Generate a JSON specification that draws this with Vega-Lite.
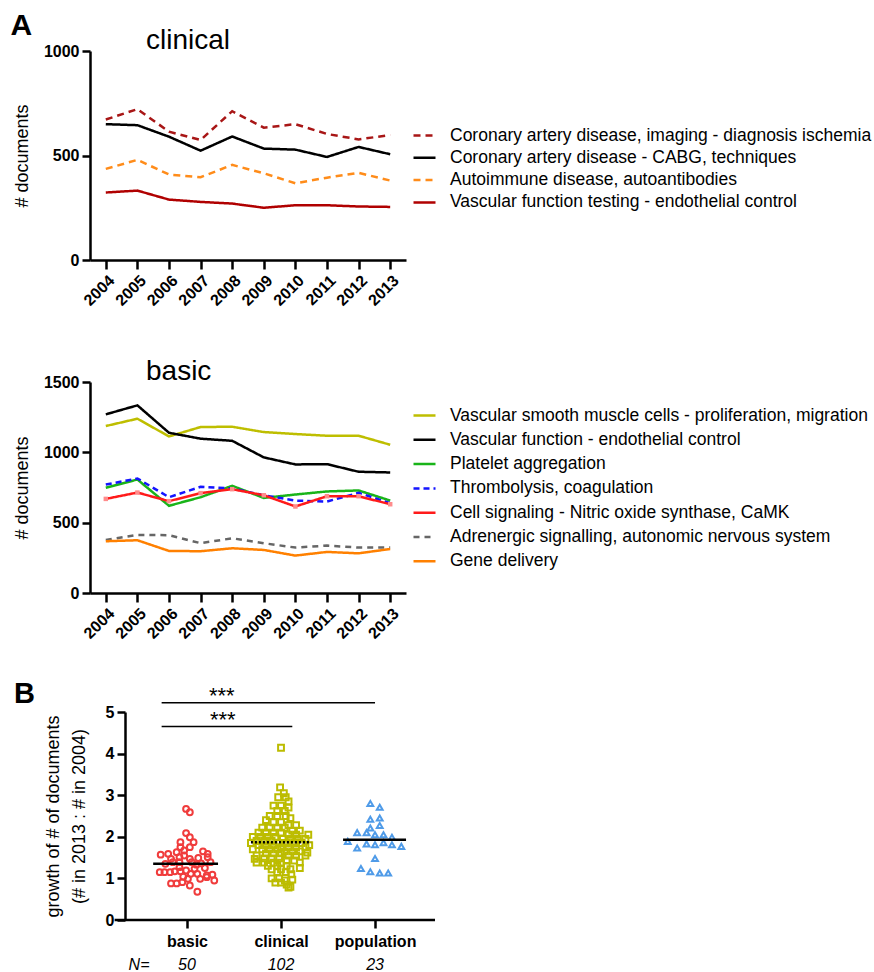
{
  "$schema": "https://vega.github.io/schema/vega-lite/v6.json",
  "padding": {"left": 10, "top": 11, "right": 0, "bottom": 0},
  "title": {"text": "A", "anchor": "start", "frame": "bounds", "fontSize": 30, "fontWeight": "bold", "offset": -14, "dx": -3, "color": "black"},
  "config": {
    "font": "Liberation Sans",
    "view": {"stroke": null},
    "axis": {"domainColor": "black", "domainWidth": 2.5, "tickColor": "black", "tickWidth": 2.5, "tickSize": 8, "labelColor": "black", "labelFont": "Liberation Sans", "labelFontWeight": "bold", "labelFontSize": 16, "titleColor": "black", "titleFont": "Liberation Sans", "titleFontWeight": "normal", "titleFontSize": 18, "grid": false, "labelPadding": 3},
    "legend": {"labelFontSize": 17.5, "labelFont": "Liberation Sans", "labelColor": "black", "labelLimit": 600, "symbolType": "stroke", "symbolSize": 484, "symbolStrokeWidth": 2.5, "padding": 0},
    "title": {"color": "black", "font": "Liberation Sans"}
  },
  "datasets": {
    "clinical": [
      {"year": 2004, "series": "Coronary artery disease, imaging - diagnosis ischemia", "n": 672},
      {"year": 2005, "series": "Coronary artery disease, imaging - diagnosis ischemia", "n": 722},
      {"year": 2006, "series": "Coronary artery disease, imaging - diagnosis ischemia", "n": 614},
      {"year": 2007, "series": "Coronary artery disease, imaging - diagnosis ischemia", "n": 574},
      {"year": 2008, "series": "Coronary artery disease, imaging - diagnosis ischemia", "n": 712},
      {"year": 2009, "series": "Coronary artery disease, imaging - diagnosis ischemia", "n": 633},
      {"year": 2010, "series": "Coronary artery disease, imaging - diagnosis ischemia", "n": 650},
      {"year": 2011, "series": "Coronary artery disease, imaging - diagnosis ischemia", "n": 603},
      {"year": 2012, "series": "Coronary artery disease, imaging - diagnosis ischemia", "n": 577},
      {"year": 2013, "series": "Coronary artery disease, imaging - diagnosis ischemia", "n": 598},
      {"year": 2004, "series": "Coronary artery disease - CABG, techniques", "n": 650},
      {"year": 2005, "series": "Coronary artery disease - CABG, techniques", "n": 645},
      {"year": 2006, "series": "Coronary artery disease - CABG, techniques", "n": 590},
      {"year": 2007, "series": "Coronary artery disease - CABG, techniques", "n": 523},
      {"year": 2008, "series": "Coronary artery disease - CABG, techniques", "n": 591},
      {"year": 2009, "series": "Coronary artery disease - CABG, techniques", "n": 533},
      {"year": 2010, "series": "Coronary artery disease - CABG, techniques", "n": 528},
      {"year": 2011, "series": "Coronary artery disease - CABG, techniques", "n": 493},
      {"year": 2012, "series": "Coronary artery disease - CABG, techniques", "n": 541},
      {"year": 2013, "series": "Coronary artery disease - CABG, techniques", "n": 506},
      {"year": 2004, "series": "Autoimmune disease, autoantibodies", "n": 436},
      {"year": 2005, "series": "Autoimmune disease, autoantibodies", "n": 479},
      {"year": 2006, "series": "Autoimmune disease, autoantibodies", "n": 409},
      {"year": 2007, "series": "Autoimmune disease, autoantibodies", "n": 396},
      {"year": 2008, "series": "Autoimmune disease, autoantibodies", "n": 455},
      {"year": 2009, "series": "Autoimmune disease, autoantibodies", "n": 415},
      {"year": 2010, "series": "Autoimmune disease, autoantibodies", "n": 367},
      {"year": 2011, "series": "Autoimmune disease, autoantibodies", "n": 394},
      {"year": 2012, "series": "Autoimmune disease, autoantibodies", "n": 417},
      {"year": 2013, "series": "Autoimmune disease, autoantibodies", "n": 380},
      {"year": 2004, "series": "Vascular function testing - endothelial control", "n": 323},
      {"year": 2005, "series": "Vascular function testing - endothelial control", "n": 332},
      {"year": 2006, "series": "Vascular function testing - endothelial control", "n": 289},
      {"year": 2007, "series": "Vascular function testing - endothelial control", "n": 278},
      {"year": 2008, "series": "Vascular function testing - endothelial control", "n": 270},
      {"year": 2009, "series": "Vascular function testing - endothelial control", "n": 250},
      {"year": 2010, "series": "Vascular function testing - endothelial control", "n": 262},
      {"year": 2011, "series": "Vascular function testing - endothelial control", "n": 262},
      {"year": 2012, "series": "Vascular function testing - endothelial control", "n": 256},
      {"year": 2013, "series": "Vascular function testing - endothelial control", "n": 254}
    ],
    "basic": [
      {"year": 2004, "series": "Vascular smooth muscle cells - proliferation, migration", "n": 1187},
      {"year": 2005, "series": "Vascular smooth muscle cells - proliferation, migration", "n": 1239},
      {"year": 2006, "series": "Vascular smooth muscle cells - proliferation, migration", "n": 1113},
      {"year": 2007, "series": "Vascular smooth muscle cells - proliferation, migration", "n": 1180},
      {"year": 2008, "series": "Vascular smooth muscle cells - proliferation, migration", "n": 1182},
      {"year": 2009, "series": "Vascular smooth muscle cells - proliferation, migration", "n": 1144},
      {"year": 2010, "series": "Vascular smooth muscle cells - proliferation, migration", "n": 1130},
      {"year": 2011, "series": "Vascular smooth muscle cells - proliferation, migration", "n": 1118},
      {"year": 2012, "series": "Vascular smooth muscle cells - proliferation, migration", "n": 1118},
      {"year": 2013, "series": "Vascular smooth muscle cells - proliferation, migration", "n": 1054},
      {"year": 2004, "series": "Vascular function - endothelial control", "n": 1270},
      {"year": 2005, "series": "Vascular function - endothelial control", "n": 1334},
      {"year": 2006, "series": "Vascular function - endothelial control", "n": 1139},
      {"year": 2007, "series": "Vascular function - endothelial control", "n": 1097},
      {"year": 2008, "series": "Vascular function - endothelial control", "n": 1082},
      {"year": 2009, "series": "Vascular function - endothelial control", "n": 964},
      {"year": 2010, "series": "Vascular function - endothelial control", "n": 914},
      {"year": 2011, "series": "Vascular function - endothelial control", "n": 916},
      {"year": 2012, "series": "Vascular function - endothelial control", "n": 862},
      {"year": 2013, "series": "Vascular function - endothelial control", "n": 857},
      {"year": 2004, "series": "Platelet aggregation", "n": 748},
      {"year": 2005, "series": "Platelet aggregation", "n": 807},
      {"year": 2006, "series": "Platelet aggregation", "n": 620},
      {"year": 2007, "series": "Platelet aggregation", "n": 681},
      {"year": 2008, "series": "Platelet aggregation", "n": 762},
      {"year": 2009, "series": "Platelet aggregation", "n": 676},
      {"year": 2010, "series": "Platelet aggregation", "n": 700},
      {"year": 2011, "series": "Platelet aggregation", "n": 722},
      {"year": 2012, "series": "Platelet aggregation", "n": 729},
      {"year": 2013, "series": "Platelet aggregation", "n": 657},
      {"year": 2004, "series": "Thrombolysis, coagulation", "n": 771},
      {"year": 2005, "series": "Thrombolysis, coagulation", "n": 814},
      {"year": 2006, "series": "Thrombolysis, coagulation", "n": 681},
      {"year": 2007, "series": "Thrombolysis, coagulation", "n": 755},
      {"year": 2008, "series": "Thrombolysis, coagulation", "n": 743},
      {"year": 2009, "series": "Thrombolysis, coagulation", "n": 695},
      {"year": 2010, "series": "Thrombolysis, coagulation", "n": 657},
      {"year": 2011, "series": "Thrombolysis, coagulation", "n": 650},
      {"year": 2012, "series": "Thrombolysis, coagulation", "n": 712},
      {"year": 2013, "series": "Thrombolysis, coagulation", "n": 639},
      {"year": 2004, "series": "Cell signaling - Nitric oxide synthase, CaMK", "n": 669},
      {"year": 2005, "series": "Cell signaling - Nitric oxide synthase, CaMK", "n": 714},
      {"year": 2006, "series": "Cell signaling - Nitric oxide synthase, CaMK", "n": 653},
      {"year": 2007, "series": "Cell signaling - Nitric oxide synthase, CaMK", "n": 710},
      {"year": 2008, "series": "Cell signaling - Nitric oxide synthase, CaMK", "n": 738},
      {"year": 2009, "series": "Cell signaling - Nitric oxide synthase, CaMK", "n": 695},
      {"year": 2010, "series": "Cell signaling - Nitric oxide synthase, CaMK", "n": 615},
      {"year": 2011, "series": "Cell signaling - Nitric oxide synthase, CaMK", "n": 688},
      {"year": 2012, "series": "Cell signaling - Nitric oxide synthase, CaMK", "n": 688},
      {"year": 2013, "series": "Cell signaling - Nitric oxide synthase, CaMK", "n": 631},
      {"year": 2004, "series": "Adrenergic signalling, autonomic nervous system", "n": 377},
      {"year": 2005, "series": "Adrenergic signalling, autonomic nervous system", "n": 413},
      {"year": 2006, "series": "Adrenergic signalling, autonomic nervous system", "n": 411},
      {"year": 2007, "series": "Adrenergic signalling, autonomic nervous system", "n": 354},
      {"year": 2008, "series": "Adrenergic signalling, autonomic nervous system", "n": 389},
      {"year": 2009, "series": "Adrenergic signalling, autonomic nervous system", "n": 354},
      {"year": 2010, "series": "Adrenergic signalling, autonomic nervous system", "n": 323},
      {"year": 2011, "series": "Adrenergic signalling, autonomic nervous system", "n": 337},
      {"year": 2012, "series": "Adrenergic signalling, autonomic nervous system", "n": 323},
      {"year": 2013, "series": "Adrenergic signalling, autonomic nervous system", "n": 323},
      {"year": 2004, "series": "Gene delivery", "n": 368},
      {"year": 2005, "series": "Gene delivery", "n": 375},
      {"year": 2006, "series": "Gene delivery", "n": 299},
      {"year": 2007, "series": "Gene delivery", "n": 297},
      {"year": 2008, "series": "Gene delivery", "n": 318},
      {"year": 2009, "series": "Gene delivery", "n": 306},
      {"year": 2010, "series": "Gene delivery", "n": 266},
      {"year": 2011, "series": "Gene delivery", "n": 292},
      {"year": 2012, "series": "Gene delivery", "n": 282},
      {"year": 2013, "series": "Gene delivery", "n": 313}
    ],
    "growth": [
      {"g": "basic", "x": -0.01, "y": 2.67}, {"g": "basic", "x": 0.03, "y": 2.59}, {"g": "basic", "x": -0.01, "y": 2.09},
      {"g": "basic", "x": 0.03, "y": 1.99}, {"g": "basic", "x": -0.07, "y": 1.87}, {"g": "basic", "x": 0.07, "y": 1.87},
      {"g": "basic", "x": -0.07, "y": 1.75}, {"g": "basic", "x": 0.03, "y": 1.75}, {"g": "basic", "x": -0.2, "y": 1.59},
      {"g": "basic", "x": -0.11, "y": 1.63}, {"g": "basic", "x": -0.03, "y": 1.67}, {"g": "basic", "x": 0.17, "y": 1.65},
      {"g": "basic", "x": 0.22, "y": 1.59}, {"g": "basic", "x": -0.17, "y": 1.47}, {"g": "basic", "x": -0.08, "y": 1.51},
      {"g": "basic", "x": 0.03, "y": 1.47}, {"g": "basic", "x": 0.12, "y": 1.49}, {"g": "basic", "x": 0.22, "y": 1.51},
      {"g": "basic", "x": -0.28, "y": 1.57}, {"g": "basic", "x": -0.23, "y": 1.35}, {"g": "basic", "x": -0.15, "y": 1.39},
      {"g": "basic", "x": -0.08, "y": 1.39}, {"g": "basic", "x": 0.05, "y": 1.39}, {"g": "basic", "x": 0.15, "y": 1.36},
      {"g": "basic", "x": 0.25, "y": 1.39}, {"g": "basic", "x": -0.29, "y": 1.15}, {"g": "basic", "x": -0.24, "y": 1.15},
      {"g": "basic", "x": -0.18, "y": 1.15}, {"g": "basic", "x": -0.13, "y": 1.17}, {"g": "basic", "x": -0.07, "y": 1.17},
      {"g": "basic", "x": -0.01, "y": 1.19}, {"g": "basic", "x": 0.08, "y": 1.23}, {"g": "basic", "x": 0.19, "y": 1.25},
      {"g": "basic", "x": -0.04, "y": 1.04}, {"g": "basic", "x": 0.04, "y": 1.11}, {"g": "basic", "x": 0.11, "y": 1.11},
      {"g": "basic", "x": 0.21, "y": 1.07}, {"g": "basic", "x": 0.27, "y": 1.09}, {"g": "basic", "x": -0.17, "y": 0.88},
      {"g": "basic", "x": -0.11, "y": 0.88}, {"g": "basic", "x": -0.05, "y": 0.91}, {"g": "basic", "x": 0.01, "y": 0.99},
      {"g": "basic", "x": 0.14, "y": 0.99}, {"g": "basic", "x": 0.21, "y": 1.03}, {"g": "basic", "x": 0.03, "y": 0.83},
      {"g": "basic", "x": 0.11, "y": 0.68}, {"g": "basic", "x": 0.29, "y": 0.95}, {"g": "basic", "x": -0.08, "y": 1.27},
      {"g": "basic", "x": 0.1, "y": 1.33}, {"g": "basic", "x": -0.03, "y": 1.55},
      {"g": "clinical", "x": 1.0, "y": 4.14}, {"g": "clinical", "x": 0.99, "y": 3.19}, {"g": "clinical", "x": 1.03, "y": 3.05},
      {"g": "clinical", "x": 0.97, "y": 2.95}, {"g": "clinical", "x": 1.05, "y": 2.95}, {"g": "clinical", "x": 1.08, "y": 2.85},
      {"g": "clinical", "x": 0.92, "y": 2.75}, {"g": "clinical", "x": 1.0, "y": 2.75}, {"g": "clinical", "x": 1.08, "y": 2.7},
      {"g": "clinical", "x": 0.96, "y": 2.62}, {"g": "clinical", "x": 1.04, "y": 2.62}, {"g": "clinical", "x": 0.88, "y": 2.5},
      {"g": "clinical", "x": 0.96, "y": 2.5}, {"g": "clinical", "x": 1.05, "y": 2.5}, {"g": "clinical", "x": 1.1, "y": 2.45},
      {"g": "clinical", "x": 0.84, "y": 2.4}, {"g": "clinical", "x": 0.92, "y": 2.35}, {"g": "clinical", "x": 1.0, "y": 2.35},
      {"g": "clinical", "x": 1.08, "y": 2.28}, {"g": "clinical", "x": 1.16, "y": 2.28}, {"g": "clinical", "x": 0.8, "y": 2.22},
      {"g": "clinical", "x": 0.88, "y": 2.22}, {"g": "clinical", "x": 0.96, "y": 2.22}, {"g": "clinical", "x": 1.04, "y": 2.22},
      {"g": "clinical", "x": 1.12, "y": 2.15}, {"g": "clinical", "x": 1.2, "y": 2.15}, {"g": "clinical", "x": 0.76, "y": 2.1},
      {"g": "clinical", "x": 0.84, "y": 2.1}, {"g": "clinical", "x": 0.92, "y": 2.1}, {"g": "clinical", "x": 1.0, "y": 2.1},
      {"g": "clinical", "x": 1.08, "y": 2.05}, {"g": "clinical", "x": 1.16, "y": 2.05}, {"g": "clinical", "x": 1.29, "y": 2.05},
      {"g": "clinical", "x": 0.7, "y": 2.0}, {"g": "clinical", "x": 0.78, "y": 2.0}, {"g": "clinical", "x": 0.86, "y": 2.0},
      {"g": "clinical", "x": 0.94, "y": 2.0}, {"g": "clinical", "x": 1.02, "y": 1.95}, {"g": "clinical", "x": 1.1, "y": 1.95},
      {"g": "clinical", "x": 1.18, "y": 1.95}, {"g": "clinical", "x": 1.26, "y": 1.95}, {"g": "clinical", "x": 0.74, "y": 1.9},
      {"g": "clinical", "x": 0.82, "y": 1.9}, {"g": "clinical", "x": 0.9, "y": 1.9}, {"g": "clinical", "x": 0.68, "y": 1.85},
      {"g": "clinical", "x": 0.98, "y": 1.85}, {"g": "clinical", "x": 1.06, "y": 1.85}, {"g": "clinical", "x": 1.14, "y": 1.85},
      {"g": "clinical", "x": 1.22, "y": 1.85}, {"g": "clinical", "x": 0.76, "y": 1.8}, {"g": "clinical", "x": 0.84, "y": 1.8},
      {"g": "clinical", "x": 0.92, "y": 1.8}, {"g": "clinical", "x": 1.3, "y": 1.8}, {"g": "clinical", "x": 1.0, "y": 1.75},
      {"g": "clinical", "x": 1.08, "y": 1.75}, {"g": "clinical", "x": 1.16, "y": 1.75}, {"g": "clinical", "x": 1.26, "y": 1.75},
      {"g": "clinical", "x": 0.7, "y": 1.7}, {"g": "clinical", "x": 0.8, "y": 1.7}, {"g": "clinical", "x": 0.88, "y": 1.7},
      {"g": "clinical", "x": 0.96, "y": 1.7}, {"g": "clinical", "x": 1.04, "y": 1.65}, {"g": "clinical", "x": 1.12, "y": 1.65},
      {"g": "clinical", "x": 1.2, "y": 1.65}, {"g": "clinical", "x": 1.28, "y": 1.62}, {"g": "clinical", "x": 0.84, "y": 1.6},
      {"g": "clinical", "x": 0.92, "y": 1.6}, {"g": "clinical", "x": 1.0, "y": 1.6}, {"g": "clinical", "x": 0.74, "y": 1.55},
      {"g": "clinical", "x": 1.08, "y": 1.55}, {"g": "clinical", "x": 1.16, "y": 1.55}, {"g": "clinical", "x": 1.26, "y": 1.55},
      {"g": "clinical", "x": 0.82, "y": 1.48}, {"g": "clinical", "x": 0.9, "y": 1.48}, {"g": "clinical", "x": 0.98, "y": 1.48},
      {"g": "clinical", "x": 0.72, "y": 1.47}, {"g": "clinical", "x": 1.06, "y": 1.43}, {"g": "clinical", "x": 1.14, "y": 1.43},
      {"g": "clinical", "x": 0.74, "y": 1.38}, {"g": "clinical", "x": 0.82, "y": 1.38}, {"g": "clinical", "x": 0.92, "y": 1.38},
      {"g": "clinical", "x": 1.0, "y": 1.38}, {"g": "clinical", "x": 1.2, "y": 1.38}, {"g": "clinical", "x": 0.86, "y": 1.3},
      {"g": "clinical", "x": 0.96, "y": 1.3}, {"g": "clinical", "x": 1.06, "y": 1.3}, {"g": "clinical", "x": 1.2, "y": 1.25},
      {"g": "clinical", "x": 0.9, "y": 1.22}, {"g": "clinical", "x": 1.0, "y": 1.22}, {"g": "clinical", "x": 1.1, "y": 1.22},
      {"g": "clinical", "x": 0.96, "y": 1.15}, {"g": "clinical", "x": 1.05, "y": 1.15}, {"g": "clinical", "x": 1.11, "y": 1.1},
      {"g": "clinical", "x": 1.12, "y": 0.97}, {"g": "clinical", "x": 0.9, "y": 1.0}, {"g": "clinical", "x": 0.98, "y": 1.0},
      {"g": "clinical", "x": 1.04, "y": 0.95}, {"g": "clinical", "x": 0.94, "y": 0.9}, {"g": "clinical", "x": 1.0, "y": 0.9},
      {"g": "clinical", "x": 1.06, "y": 0.85}, {"g": "clinical", "x": 1.1, "y": 0.8}, {"g": "clinical", "x": 1.08, "y": 0.78},
      {"g": "population", "x": 1.95, "y": 2.8}, {"g": "population", "x": 2.05, "y": 2.71}, {"g": "population", "x": 1.95, "y": 2.42},
      {"g": "population", "x": 2.05, "y": 2.45}, {"g": "population", "x": 2.05, "y": 2.27}, {"g": "population", "x": 1.95, "y": 2.21},
      {"g": "population", "x": 1.81, "y": 2.1}, {"g": "population", "x": 1.91, "y": 2.1}, {"g": "population", "x": 2.0, "y": 2.05},
      {"g": "population", "x": 2.09, "y": 2.05}, {"g": "population", "x": 2.18, "y": 1.99}, {"g": "population", "x": 1.71, "y": 1.89},
      {"g": "population", "x": 1.91, "y": 1.83}, {"g": "population", "x": 2.0, "y": 1.81}, {"g": "population", "x": 2.09, "y": 1.86},
      {"g": "population", "x": 2.18, "y": 1.81}, {"g": "population", "x": 2.28, "y": 1.77}, {"g": "population", "x": 1.81, "y": 1.73},
      {"g": "population", "x": 2.0, "y": 1.48}, {"g": "population", "x": 1.85, "y": 1.24}, {"g": "population", "x": 1.95, "y": 1.16},
      {"g": "population", "x": 2.05, "y": 1.13}, {"g": "population", "x": 2.14, "y": 1.13}
    ],
    "medians": [
      {"g": "basic", "y": 1.35, "x": -0.36, "x2": 0.33},
      {"g": "clinical", "y": 1.87, "x": 0.68, "x2": 1.32},
      {"g": "population", "y": 1.93, "x": 1.66, "x2": 2.33}
    ],
    "baseline": [{"y": 0, "x": -0.77, "x2": 2.638}],
    "sig": [
      {"y": 5.22, "x": -0.27, "x2": 2.0, "tx": 0.37, "label": "***"},
      {"y": 4.65, "x": -0.27, "x2": 1.12, "tx": 0.38, "label": "***"}
    ],
    "counts": [
      {"x": -0.51, "y": -1.08, "label": "N="},
      {"x": 0, "y": -1.08, "label": "50"},
      {"x": 1, "y": -1.08, "label": "102"},
      {"x": 2, "y": -1.08, "label": "23"}
    ]
  },
  "spacing": 37,
  "resolve": {"scale": {"color": "independent", "strokeDash": "independent", "shape": "independent"}, "legend": {"color": "independent", "strokeDash": "independent", "shape": "independent"}},
  "vconcat": [
    {
      "spacing": 49,
      "resolve": {"scale": {"color": "independent", "strokeDash": "independent"}, "legend": {"color": "independent", "strokeDash": "independent"}},
      "vconcat": [
        {
          "width": 316,
          "height": 209,
          "title": {"text": "clinical", "anchor": "start", "frame": "group", "dx": 56, "fontSize": 28, "fontWeight": "normal", "offset": -12},
          "data": {"name": "clinical"},
          "mark": {"type": "line", "strokeWidth": 2.5},
          "encoding": {
            "x": {"field": "year", "type": "ordinal", "scale": {"type": "point", "padding": 0.5}, "axis": {"title": null, "labelAngle": -45, "labelFontSize": 16, "tickSize": 9}},
            "y": {"field": "n", "type": "quantitative", "scale": {"domain": [0, 1000], "nice": false}, "axis": {"values": [0, 500, 1000], "format": "d", "title": "# documents", "titlePadding": 12}},
            "color": {"field": "series", "type": "nominal",
              "scale": {"domain": ["Coronary artery disease, imaging - diagnosis ischemia", "Coronary artery disease - CABG, techniques", "Autoimmune disease, autoantibodies", "Vascular function testing - endothelial control"], "range": ["#a81616", "#000000", "#ff8c1a", "#b00000"]},
              "legend": {"orient": "none", "legendX": 322, "legendY": 72, "rowPadding": 1.3, "labelOffset": 13, "title": null}},
            "strokeDash": {"field": "series", "type": "nominal",
              "scale": {"domain": ["Coronary artery disease, imaging - diagnosis ischemia", "Coronary artery disease - CABG, techniques", "Autoimmune disease, autoantibodies", "Vascular function testing - endothelial control"], "range": [[7, 5], [1, 0], [7, 5], [1, 0]]},
              "legend": {"orient": "none", "legendX": 322, "legendY": 72, "rowPadding": 1.3, "labelOffset": 13, "title": null}}
          }
        },
        {
          "width": 316,
          "height": 211,
          "title": {"text": "basic", "anchor": "start", "frame": "group", "dx": 56, "fontSize": 28, "fontWeight": "normal", "offset": -12},
          "data": {"name": "basic"},
          "encoding": {
            "x": {"field": "year", "type": "ordinal", "scale": {"type": "point", "padding": 0.5}, "axis": {"title": null, "labelAngle": -45, "labelFontSize": 16, "tickSize": 9}},
            "y": {"field": "n", "type": "quantitative", "scale": {"domain": [0, 1500], "nice": false}, "axis": {"values": [0, 500, 1000, 1500], "format": "d", "title": "# documents", "titlePadding": 12}}
          },
          "layer": [
            {
              "mark": {"type": "line", "strokeWidth": 2.5},
              "encoding": {
                "color": {"field": "series", "type": "nominal",
                  "scale": {"domain": ["Vascular smooth muscle cells - proliferation, migration", "Vascular function - endothelial control", "Platelet aggregation", "Thrombolysis, coagulation", "Cell signaling - Nitric oxide synthase, CaMK", "Adrenergic signalling, autonomic nervous system", "Gene delivery"], "range": ["#bebe00", "#000000", "#19b419", "#1414ff", "#ff1a1a", "#666666", "#ff8000"]},
                  "legend": {"orient": "none", "legendX": 322, "legendY": 21, "rowPadding": 3.3, "labelOffset": 13, "title": null}},
                "strokeDash": {"field": "series", "type": "nominal",
                  "scale": {"domain": ["Vascular smooth muscle cells - proliferation, migration", "Vascular function - endothelial control", "Platelet aggregation", "Thrombolysis, coagulation", "Cell signaling - Nitric oxide synthase, CaMK", "Adrenergic signalling, autonomic nervous system", "Gene delivery"], "range": [[1, 0], [1, 0], [1, 0], [6, 4], [1, 0], [6, 5], [1, 0]]},
                  "legend": {"orient": "none", "legendX": 322, "legendY": 21, "rowPadding": 3.3, "labelOffset": 13, "title": null}}
              }
            },
            {
              "transform": [{"filter": "datum.series === 'Cell signaling - Nitric oxide synthase, CaMK'"}],
              "mark": {"type": "square", "filled": true, "color": "#ff8c8c", "size": 20, "opacity": 1}
            }
          ]
        }
      ]
    },
    {
      "width": 345,
      "height": 208,
      "title": {"text": "B", "anchor": "start", "frame": "bounds", "fontSize": 29, "fontWeight": "bold", "offset": -24, "dx": -30},
      "encoding": {
        "x": {"field": "x", "type": "quantitative", "scale": {"domain": [-1.032, 2.638], "nice": false, "zero": false},
          "axis": {"values": [0, 1, 2], "labelExpr": "datum.value == 0 ? 'basic' : datum.value == 1 ? 'clinical' : 'population'", "title": null, "domain": false, "labelFontSize": 16, "labelPadding": 5}},
        "y": {"field": "y", "type": "quantitative", "scale": {"domain": [0, 5], "nice": false},
          "axis": {"values": [0, 1, 2, 3, 4, 5], "title": ["growth of # of documents", "(# in 2013 : # in 2004)"], "titleLineHeight": 26, "offset": -35, "titlePadding": 17}}
      },
      "layer": [
        {
          "data": {"name": "growth"},
          "mark": {"type": "point", "filled": false, "strokeWidth": 2, "size": 34, "opacity": 1},
          "encoding": {
            "shape": {"field": "g", "type": "nominal", "scale": {"domain": ["basic", "clinical", "population"], "range": ["circle", "square", "triangle-up"]}, "legend": null},
            "color": {"field": "g", "type": "nominal", "scale": {"domain": ["basic", "clinical", "population"], "range": ["#f03c3c", "#bcbc00", "#4f9be8"]}, "legend": null}
          }
        },
        {
          "data": {"name": "medians"},
          "mark": {"type": "rule", "color": "black", "strokeWidth": 2.5},
          "encoding": {
            "x2": {"field": "x2"},
            "strokeDash": {"field": "g", "type": "nominal", "scale": {"domain": ["basic", "clinical", "population"], "range": [[1, 0], [2, 2], [1, 0]]}, "legend": null}
          }
        },
        {
          "data": {"name": "baseline"},
          "mark": {"type": "rule", "color": "black", "strokeWidth": 2.5},
          "encoding": {"x2": {"field": "x2"}}
        },
        {
          "data": {"name": "sig"},
          "mark": {"type": "rule", "color": "black", "strokeWidth": 1.5},
          "encoding": {"x2": {"field": "x2"}}
        },
        {
          "data": {"name": "sig"},
          "mark": {"type": "text", "fontSize": 22, "baseline": "alphabetic", "align": "center", "color": "black"},
          "encoding": {"x": {"field": "tx", "type": "quantitative"}, "text": {"field": "label"}}
        },
        {
          "data": {"name": "counts"},
          "mark": {"type": "text", "fontSize": 16, "fontStyle": "italic", "baseline": "middle", "align": "center", "color": "black"},
          "encoding": {"text": {"field": "label"}}
        }
      ]
    }
  ]
}
